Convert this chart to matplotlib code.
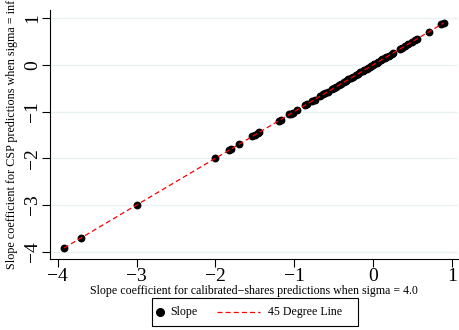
import matplotlib
matplotlib.use("Agg")
import matplotlib.pyplot as plt
from matplotlib.lines import Line2D
from matplotlib.patches import Rectangle

plt.rcParams['font.family'] = ['Liberation Serif', 'DejaVu Serif']

# Slope coefficients: calibrated-shares (sigma = 4.0) vs CSP (sigma = inf)
slope_cs = [-3.92, -3.70, -3.00, -2.00, -1.83, -1.80, -1.70, -1.53, -1.49, -1.46,
            -1.44, -1.19, -1.17, -1.06, -1.04, -1.02, -0.96, -0.86, -0.84, -0.77,
            -0.74, -0.67, -0.63, -0.61, -0.57, -0.52, -0.49, -0.47, -0.43, -0.40,
            -0.37, -0.34, -0.31, -0.28, -0.25, -0.22, -0.19, -0.16, -0.13, -0.11,
            -0.08, -0.06, -0.04, -0.02, 0.00, 0.02, 0.05, 0.07, 0.10, 0.12,
            0.15, 0.17, 0.20, 0.24, 0.26, 0.34, 0.37, 0.41, 0.45, 0.49,
            0.53, 0.56, 0.71, 0.87, 0.90]
slope_csp = list(slope_cs)

line_45 = [min(slope_cs), max(slope_cs)]

x_ticks = [-4, -3, -2, -1, 0, 1]
y_ticks = [-4, -3, -2, -1, 0, 1]
legend_labels = ['Slope', '45 Degree Line']

W, H = 460, 330
AX_L, AX_R, AX_T, AX_B = 50, 458, 10, 259
fig = plt.figure(figsize=(W / 100, H / 100), dpi=100)
ax = fig.add_axes([AX_L / W, 1 - AX_B / H, (AX_R - AX_L) / W, (AX_B - AX_T) / H])

for yt in y_ticks:
    ax.axhline(yt, color='#eaf2f3', lw=1.0, zorder=0)

ax.scatter(slope_cs, slope_csp, s=32, color='black', zorder=2, linewidths=0)
ax.plot(line_45, line_45, color='#ff0000', lw=0.9, dashes=(4, 2.5), zorder=3)

ax.set_xlim(-4.098, 1.08)
ax.set_ylim(-4.156, 1.178)
ax.set_xticks(x_ticks)
ax.set_yticks(y_ticks)
ax.set_xticklabels([str(t).replace('-', '\u2212') for t in x_ticks], fontsize=14)
ax.set_yticklabels([str(t).replace('-', '\u2212') for t in y_ticks], fontsize=14,
                   rotation=90, va='center')
ax.tick_params(direction='out', length=5.5, width=0.8, pad=1)

for side in ['top', 'right']:
    ax.spines[side].set_visible(False)
for side in ['left', 'bottom']:
    ax.spines[side].set_linewidth(0.8)

ax_h = AX_B - AX_T
ax_w = AX_R - AX_L
ax.set_xlabel('Slope coefficient for calibrated\u2212shares predictions when sigma = 4.0',
              fontsize=8.6)
ax.xaxis.set_label_coords(0.5, -(291 - AX_B) / ax_h)
ax.xaxis.label.set_va('center')
ax.set_ylabel('Slope coefficient for CSP predictions when sigma = inf', fontsize=8.7)
ax.yaxis.set_label_coords((12 - AX_L) / ax_w, (AX_B - 134) / ax_h)
ax.yaxis.label.set_va('center')

# Legend drawn in figure pixel space
def fx(px):
    return px / W

def fy(py):
    return 1 - py / H

ly = 312
fig.patches.append(Rectangle((fx(152), fy(326)), fx(206), 28 / H, transform=fig.transFigure,
                             facecolor='white', edgecolor='black', lw=0.8))
fig.lines.append(Line2D([fx(160)], [fy(ly)], marker='o', color='black', markersize=5.5,
                        linestyle='none', transform=fig.transFigure))
fig.text(fx(170), fy(ly), legend_labels[0], fontsize=8.6, va='center', ha='left')
fig.lines.append(Line2D([fx(217), fx(260)], [fy(ly), fy(ly)], color='#ff0000', lw=0.9,
                        dashes=(4, 2.5), transform=fig.transFigure))
fig.text(fx(268), fy(ly), legend_labels[1], fontsize=8.6, va='center', ha='left')

fig.savefig('out.png', dpi=100)
